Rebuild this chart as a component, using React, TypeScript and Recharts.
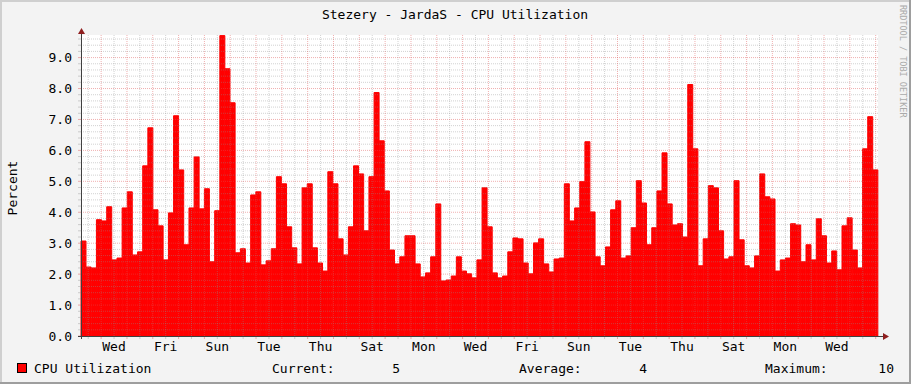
import { Bar, BarChart, CartesianGrid, ReferenceLine, XAxis, YAxis } from "recharts";

// CPU utilization samples, left to right (percent)
const cpu = [
  3.07, 2.23, 2.2, 3.76, 3.72, 4.18, 2.46, 2.52, 4.14, 4.66,
  2.62, 2.72, 5.5, 6.73, 4.08, 3.56, 2.46, 3.98, 7.12, 5.37,
  2.95, 4.14, 5.79, 4.11, 4.76, 2.4, 4.05, 9.71, 8.64, 7.54,
  2.69, 2.82, 2.36, 4.56, 4.66, 2.3, 2.43, 2.82, 5.15, 4.92,
  3.53, 2.85, 2.33, 4.79, 4.92, 2.85, 2.36, 2.1, 5.31, 4.92,
  3.14, 2.62, 3.53, 5.5, 5.24, 3.4, 5.15, 7.87, 6.31, 4.69,
  2.78, 2.33, 2.56, 3.24, 3.24, 2.33, 1.91, 2.04, 2.56, 4.27,
  1.78, 1.81, 1.94, 2.56, 2.1, 2.01, 1.88, 2.46, 4.79, 3.53,
  2.04, 1.88, 1.94, 2.72, 3.17, 3.14, 2.36, 2.01, 3.01, 3.14,
  2.33, 2.07, 2.49, 2.52, 4.92, 3.72, 4.14, 4.99, 6.28, 4.01,
  2.56, 2.27, 2.88, 4.08, 4.37, 2.52, 2.59, 3.5, 5.02, 4.3,
  2.95, 3.5, 4.69, 5.92, 4.27, 3.59, 3.63, 3.2, 8.13, 6.05,
  2.27, 3.14, 4.86, 4.79, 3.4, 2.49, 2.56, 5.02, 3.11, 2.27,
  2.2, 2.59, 5.24, 4.5, 4.43, 2.1, 2.46, 2.52, 3.63, 3.59,
  2.4, 2.95, 2.46, 3.79, 3.24, 2.36, 2.75, 2.14, 3.56, 3.82,
  2.78, 2.2, 6.05, 7.09, 5.37,
];

// time axis in days, 0 = first Wednesday 00:00
const dayDomain = [-0.78, 30.09];
const labelDays = [0.5, 2.5, 4.5, 6.5, 8.5, 10.5, 12.5, 14.5, 16.5, 18.5, 20.5, 22.5, 24.5, 26.5, 28.5];
const dayLabels = ["Wed", "Fri", "Sun", "Tue", "Thu", "Sat", "Mon", "Wed", "Fri", "Sun", "Tue", "Thu", "Sat", "Mon", "Wed"];

const yMax = 9.73;
const yMajor = [1, 2, 3, 4, 5, 6, 7, 8, 9];

const title = "Stezery - JardaS - CPU Utilization";
const seriesName = "CPU Utilization";

const W = 911;
const H = 384;
const M = { top: 35, right: 33, bottom: 48, left: 81 };
const FONT = "'DejaVu Sans Mono', monospace";
const MINOR = "rgba(143,143,143,0.4)";
const MAJOR = "rgba(222,80,80,0.45)";

const rows = cpu.map((v, i) => ({ i, v }));
const yMinor = Array.from({ length: 49 }, (_, k) => Math.round(k * 2) / 10).filter((v) => v % 1 !== 0);
const yTicks = Array.from({ length: 49 }, (_, k) => Math.round(k * 2) / 10);
const midnights = Array.from({ length: 31 }, (_, k) => k);
const noons = Array.from({ length: 31 }, (_, k) => k - 0.5);
const xTicks = [...noons, ...midnights].sort((a, b) => a - b);

const current = cpu[cpu.length - 1];
const average = cpu.reduce((s, v) => s + v, 0) / cpu.length;
const maximum = Math.max(...cpu);

function YTick({ x, y, payload }: any) {
  const v = payload.value;
  const major = Math.abs(v - Math.round(v)) < 1e-6;
  return (
    <g>
      <line x1={x + 6} x2={x + 9} y1={y} y2={y} stroke={major ? MAJOR : MINOR} />
      {major && (
        <text x={x} y={y} dy="0.36em" textAnchor="end" fontFamily={FONT} fontSize={13} fill="#000">
          {v.toFixed(1)}
        </text>
      )}
    </g>
  );
}

function XTick({ x, y, payload }: any) {
  const v = payload.value;
  const idx = labelDays.indexOf(v);
  return (
    <g>
      <line x1={x} x2={x} y1={y - 6} y2={y - 3} stroke={Number.isInteger(v) ? MAJOR : MINOR} />
      {idx >= 0 && (
        <text x={x} y={y} dy="0.71em" textAnchor="middle" fontFamily={FONT} fontSize={13} fill="#000">
          {dayLabels[idx]}
        </text>
      )}
    </g>
  );
}

export default function App() {
  const x0 = M.left;
  const y0 = H - M.bottom;
  return (
    <div style={{ position: "absolute", left: 0, top: 0, width: W, height: H, background: "#f3f3f3" }}>
      <BarChart
        width={W}
        height={H}
        data={rows}
        margin={{ top: M.top, right: M.right, bottom: 0, left: 0 }}
        barCategoryGap={0}
        barGap={0}
      >
        <CartesianGrid xAxisId="time" horizontal={false} vertical={false} fill="#ffffff" />
        <XAxis xAxisId="bars" dataKey="i" hide height={0} />
        <XAxis
          xAxisId="time"
          type="number"
          dataKey="i"
          domain={dayDomain}
          allowDataOverflow
          ticks={xTicks}
          interval={0}
          height={M.bottom}
          axisLine={false}
          tickLine={false}
          tickSize={0}
          tickMargin={6}
          tick={<XTick />}
        />
        <YAxis
          width={M.left}
          domain={[0, yMax]}
          allowDataOverflow
          ticks={yTicks}
          interval={0}
          axisLine={false}
          tickLine={false}
          tickSize={0}
          tickMargin={9}
          tick={<YTick />}
        />
        <Bar xAxisId="bars" dataKey="v" fill="#ff0000" stroke="#ff0000" strokeWidth={1} isAnimationActive={false} />
        {noons.map((d) => (
          <ReferenceLine key={"n" + d} xAxisId="time" x={d} stroke={MINOR} strokeDasharray="1 1" />
        ))}
        {yMinor.map((v) => (
          <ReferenceLine key={"h" + v} xAxisId="time" y={v} stroke={MINOR} strokeDasharray="1 1" />
        ))}
        {midnights.map((d) => (
          <ReferenceLine key={"m" + d} xAxisId="time" x={d} stroke={MAJOR} strokeDasharray="1 1" />
        ))}
        {yMajor.map((v) => (
          <ReferenceLine key={"H" + v} xAxisId="time" y={v} stroke={MAJOR} strokeDasharray="1 1" />
        ))}
      </BarChart>
      <svg width={W} height={H} style={{ position: "absolute", left: 0, top: 0, pointerEvents: "none" }}>
        {/* frame */}
        <rect x={0} y={0} width={W} height={2} fill="#cfcfcf" />
        <rect x={0} y={0} width={2} height={H} fill="#cfcfcf" />
        <rect x={0} y={H - 2} width={W} height={2} fill="#9e9e9e" />
        <rect x={W - 2} y={0} width={2} height={H} fill="#9e9e9e" />
        <text x={455} y={19} textAnchor="middle" fontFamily={FONT} fontSize={13} fill="#000">
          {title}
        </text>
        <text
          x={899.5}
          y={5}
          transform="rotate(90 899.5 5)"
          fontFamily={FONT}
          fontSize={8.5}
          fill="#aaaaaa"
        >
          RRDTOOL / TOBI OETIKER
        </text>
        <text x={16.5} y={188} transform="rotate(-90 16.5 188)" textAnchor="middle" fontFamily={FONT} fontSize={13} fill="#000">
          Percent
        </text>
        {/* axes */}
        <line x1={x0 - 3} x2={W - M.right + 6} y1={y0 + 0.5} y2={y0 + 0.5} stroke="#404040" />
        <line x1={x0 + 0.5} x2={x0 + 0.5} y1={y0 + 3} y2={M.top - 3} stroke="#404040" />
        <polygon points={`${x0 - 3},${M.top - 1} ${x0 + 4},${M.top - 1} ${x0 + 0.5},${M.top - 7}`} fill="#8f1f1f" />
        <polygon points={`${W - M.right + 5},${y0 - 3} ${W - M.right + 5},${y0 + 4} ${W - M.right + 11},${y0 + 0.5}`} fill="#8f1f1f" />
        {/* legend */}
        <rect x={17.5} y={363.5} width={9} height={9} fill="#ff0000" stroke="#000" />
        <g fontFamily={FONT} fontSize={13} fill="#000">
          <text x={34} y={373}>{seriesName}</text>
          <text x={272} y={373}>Current:</text>
          <text x={400} y={373} textAnchor="end">{current.toFixed(0)}</text>
          <text x={519} y={373}>Average:</text>
          <text x={647} y={373} textAnchor="end">{average.toFixed(0)}</text>
          <text x={765} y={373}>Maximum:</text>
          <text x={894} y={373} textAnchor="end">{maximum.toFixed(0)}</text>
        </g>
      </svg>
    </div>
  );
}
